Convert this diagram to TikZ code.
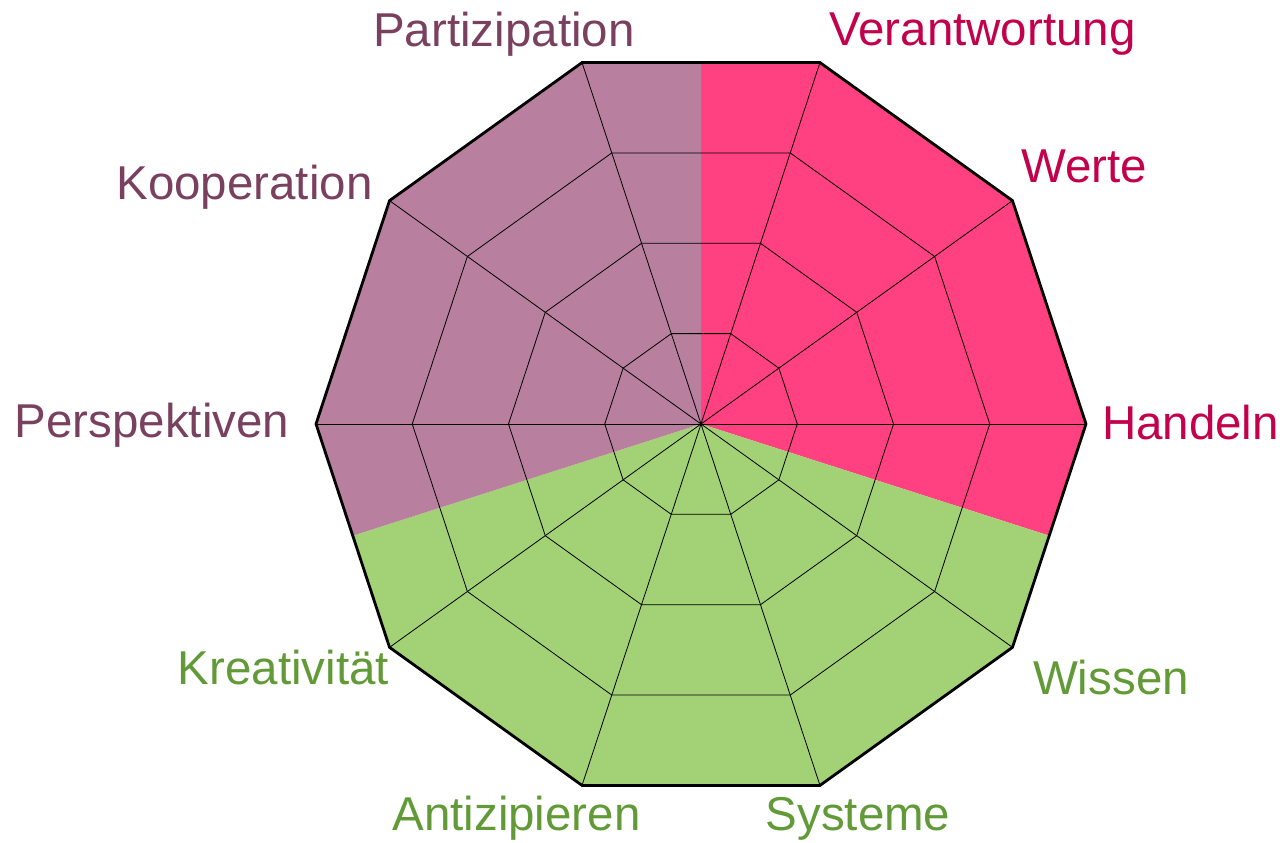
\documentclass[tikz,border=0pt]{standalone}
\usepackage{fontspec}
\setmainfont{Liberation Sans}
\definecolor{pinkfill}{HTML}{FF4181}
\definecolor{purplefill}{HTML}{B8809E}
\definecolor{greenfill}{HTML}{A3D176}
\definecolor{pinktext}{HTML}{C2004C}
\definecolor{purpletext}{HTML}{7A405F}
\definecolor{greentext}{HTML}{619A37}
\tikzset{
  lbl/.style={anchor=base, inner sep=0pt, font=\fontsize{47.5}{57}\selectfont},
  thin grid/.style={draw=black, line width=0.8pt},
  outer/.style={draw=black, line width=2.8pt, line join=miter},
}
\begin{document}
\begin{tikzpicture}[x=1pt,y=1pt]
\useasboundingbox (0,0) rectangle (1285,843);
\begin{scope}[shift={(701,419)}, x=385pt, y=380pt]
  % sector fills
  \fill[pinkfill] (0,0) -- (0.9045,-0.2939) -- (0:1) -- (36:1) -- (72:1) -- (0,0.9511) -- cycle;
  \fill[greenfill] (0,0) -- (0.9045,-0.2939) -- (-36:1) -- (-72:1) -- (-108:1) -- (-144:1) -- (-0.9045,-0.2939) -- cycle;
  \fill[purplefill] (0,0) -- (-0.9045,-0.2939) -- (180:1) -- (144:1) -- (108:1) -- (0,0.9511) -- cycle;
  % inner rings
  \foreach \r in {0.25,0.5,0.75} {
    \draw[thin grid] (0:\r) \foreach \k in {1,...,9} { -- (\k*36:\r) } -- cycle;
  }
  % spokes
  \foreach \k in {0,...,9} {
    \draw[thin grid] (0,0) -- (\k*36:1);
  }
  % outer ring
  \draw[outer] (0:1) \foreach \k in {1,...,9} { -- (\k*36:1) } -- cycle;
\end{scope}
\node[lbl, text=purpletext] (partizipation) at (504,796) {Partizipation};
\node[lbl, text=pinktext] (verantwortung) at (982.5,797) {Verantwortung};
\node[lbl, text=pinktext] (werte) at (1084,660) {Werte};
\node[lbl, text=pinktext] (handeln) at (1190.5,403) {Handeln};
\node[lbl, text=purpletext] (kooperation) at (244.5,643) {Kooperation};
\node[lbl, text=purpletext] (perspektiven) at (152,405) {Perspektiven};
\node[lbl, text=greentext] (kreativitaet) at (283.5,158) {Kreativität};
\node[lbl, text=greentext] (antizipieren) at (516.5,12) {Antizipieren};
\node[lbl, text=greentext] (systeme) at (858,12) {Systeme};
\node[lbl, text=greentext] (wissen) at (1111,148) {Wissen};
\end{tikzpicture}
\end{document}
